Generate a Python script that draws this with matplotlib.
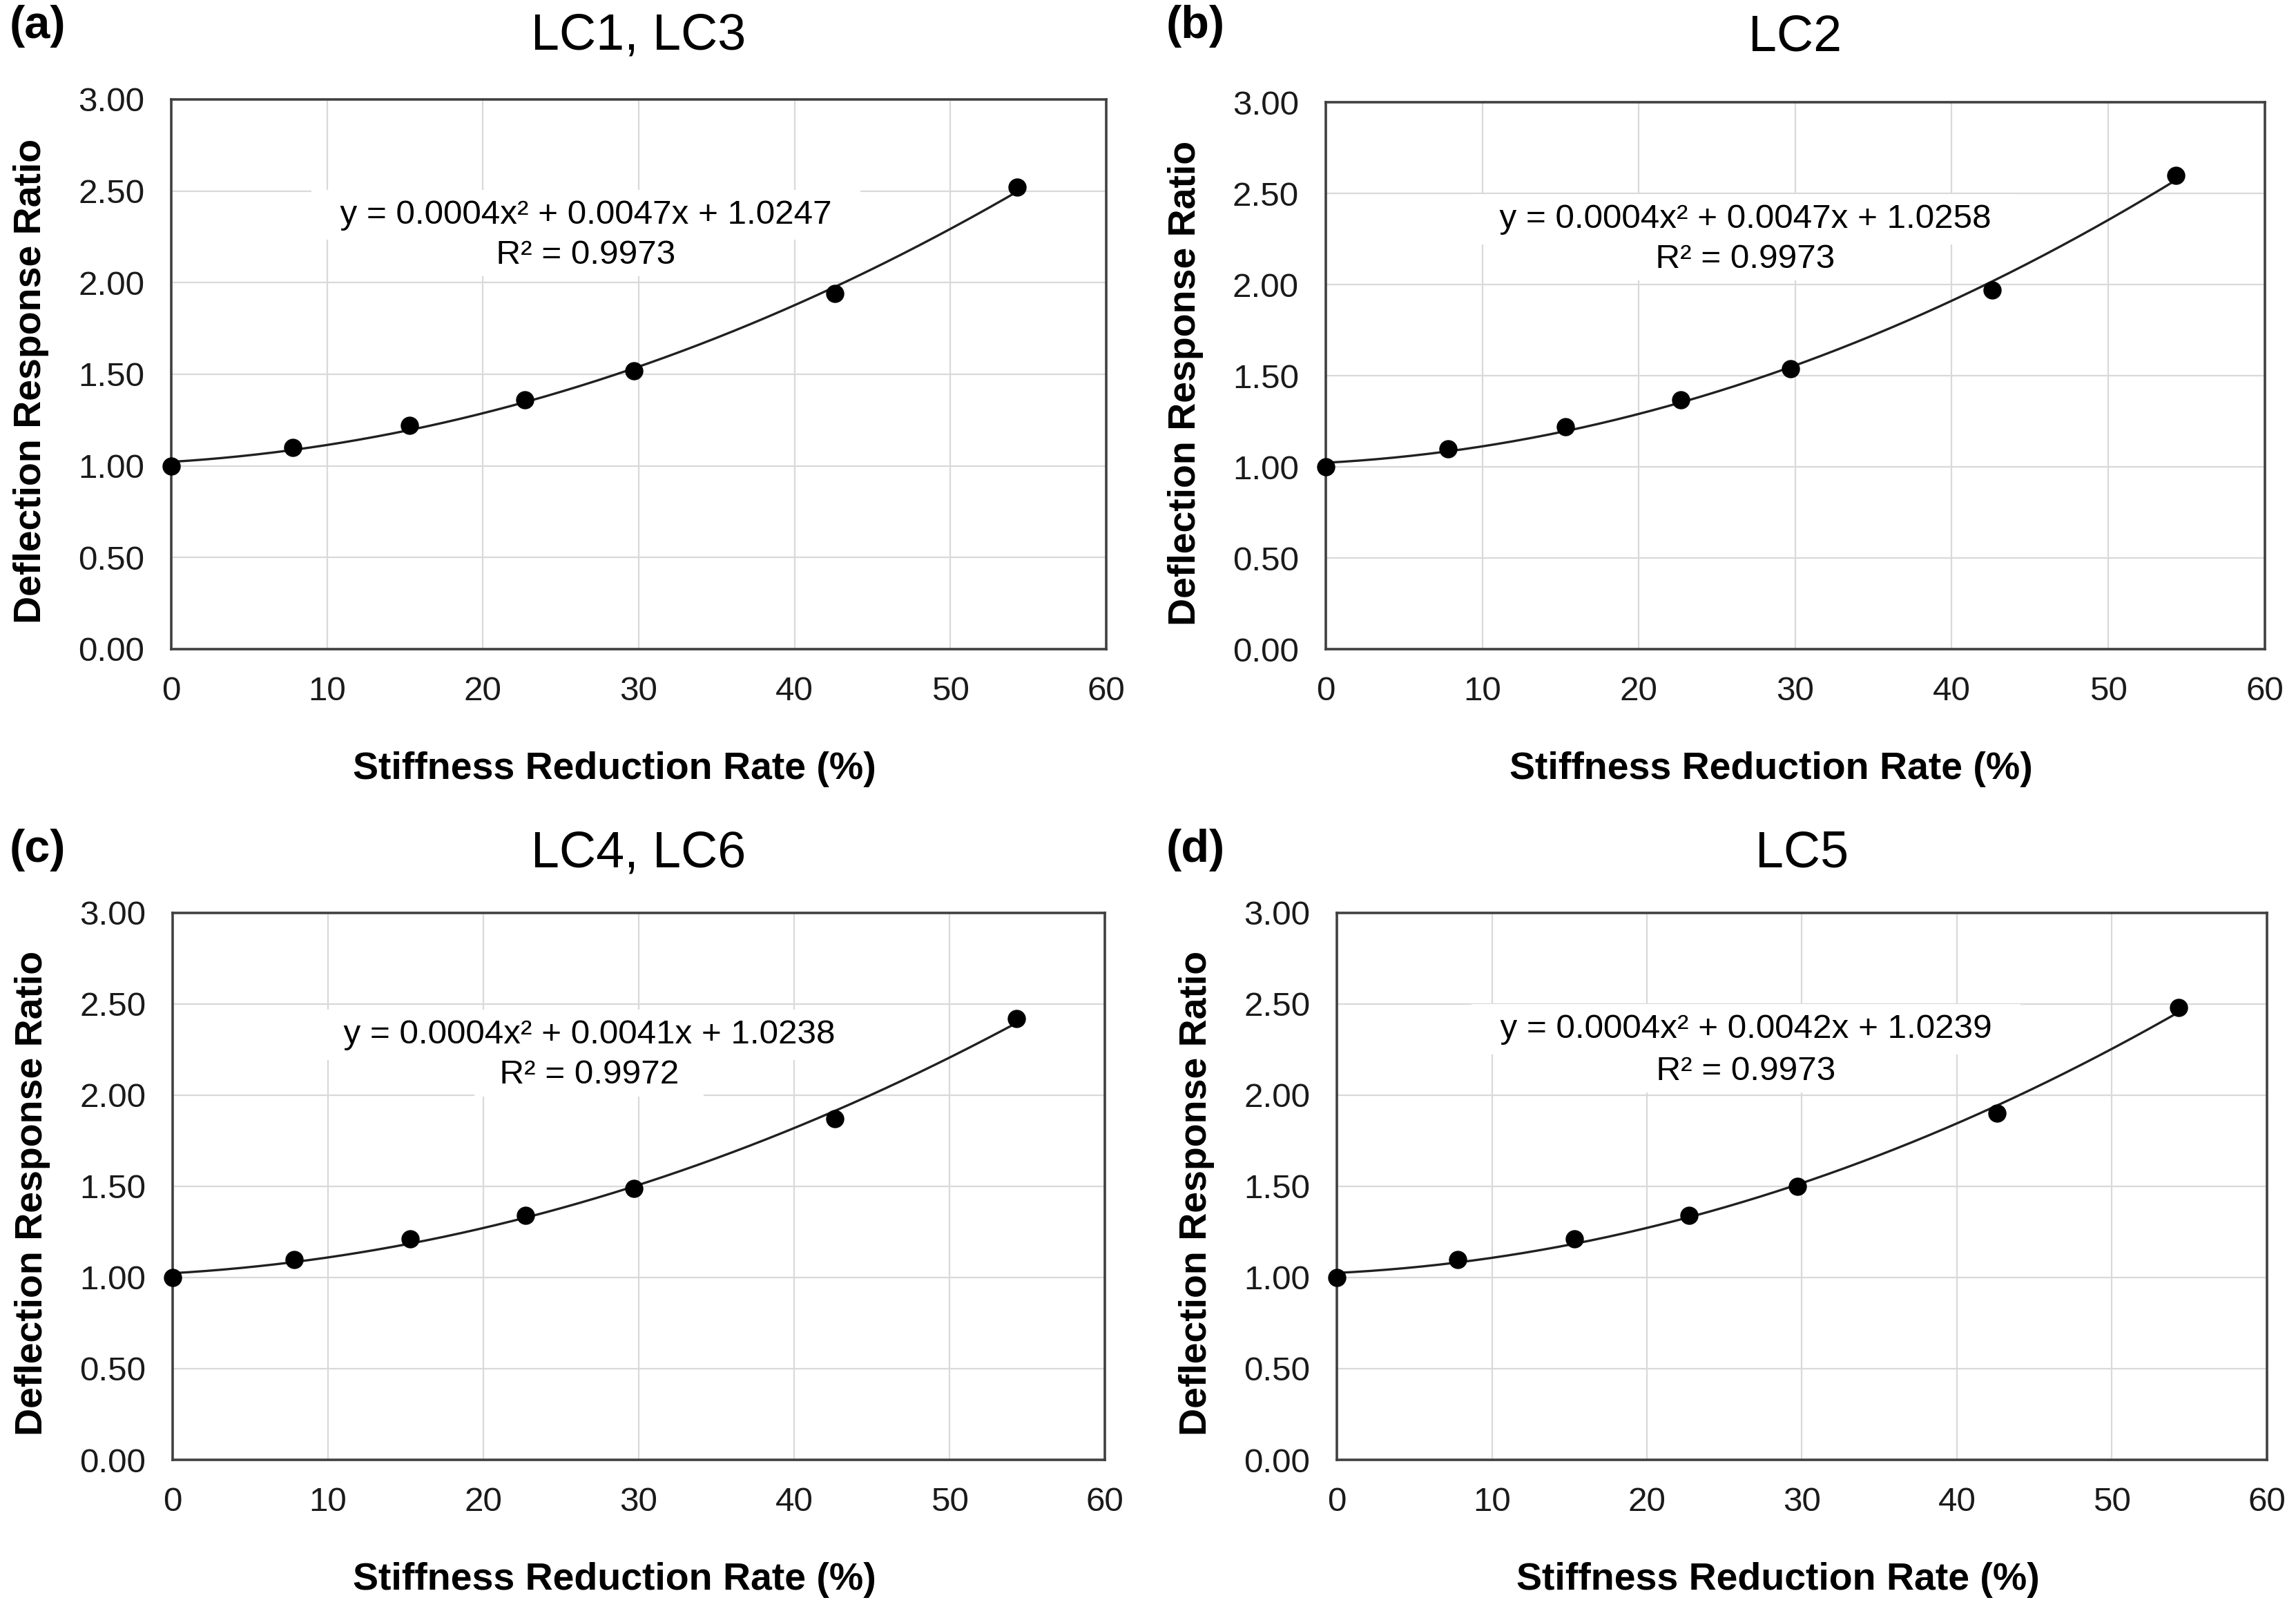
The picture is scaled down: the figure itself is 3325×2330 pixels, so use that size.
import matplotlib
matplotlib.use("Agg")
import matplotlib.pyplot as plt
import numpy as np

plt.rcParams['font.family'] = ['Liberation Sans', 'DejaVu Sans']

# stiffness reduction rate (%) - same steps in every panel
rate = [0, 7.8, 15.3, 22.7, 29.7, 42.6, 54.3]

# deflection response ratio
ratio_a = [1.00, 1.10, 1.22, 1.36, 1.52, 1.94, 2.52]
ratio_b = [1.00, 1.10, 1.22, 1.37, 1.54, 1.97, 2.60]
ratio_c = [1.00, 1.10, 1.21, 1.34, 1.49, 1.87, 2.42]
ratio_d = [1.00, 1.10, 1.21, 1.34, 1.50, 1.90, 2.48]

titles = ["LC1, LC3", "LC2", "LC4, LC6", "LC5"]
tags = ["(a)", "(b)", "(c)", "(d)"]
equations = ["y = 0.0004x\u00b2 + 0.0047x + 1.0247",
             "y = 0.0004x\u00b2 + 0.0047x + 1.0258",
             "y = 0.0004x\u00b2 + 0.0041x + 1.0238",
             "y = 0.0004x\u00b2 + 0.0042x + 1.0239"]
r2_text = ["R\u00b2 = 0.9973", "R\u00b2 = 0.9973", "R\u00b2 = 0.9972", "R\u00b2 = 0.9973"]
all_ratios = [ratio_a, ratio_b, ratio_c, ratio_d]

# axes boxes in figure fractions
boxes = [[0.0746, 0.5966, 0.4072, 0.3416],
         [0.5774, 0.5964, 0.4090, 0.3400],
         [0.0752, 0.0927, 0.4060, 0.3400],
         [0.5823, 0.0927, 0.4050, 0.3400]]
title_pad = [26, 27, 24, 24]
tag_pos = [(0.004, 0.997), (0.508, 0.997), (0.004, 0.485), (0.508, 0.485)]
eq_pos = [(26.6, 2.37, 2.15), (26.8, 2.36, 2.14), (26.8, 2.33, 2.11), (26.4, 2.36, 2.13)]

fig = plt.figure(figsize=(16.625, 11.65), dpi=200)

for i in range(4):
    ax = fig.add_axes(boxes[i])
    y = all_ratios[i]

    # quadratic trendline through the points
    c = np.polyfit(rate, y, 2)
    xs = np.linspace(rate[0], rate[-1], 200)
    ax.plot(xs, np.polyval(c, xs), color="#202020", lw=1.2, zorder=3)
    ax.plot(rate, y, "o", color="black", ms=8.5, zorder=4, clip_on=False)

    ax.set_xlim(0, 60)
    ax.set_ylim(0, 3)
    ax.set_xticks(np.arange(0, 61, 10))
    ax.set_yticks(np.arange(0, 3.01, 0.5))
    ax.set_yticklabels(["%.2f" % v for v in np.arange(0, 3.01, 0.5)])
    ax.tick_params(length=0, labelsize=17.8, pad=14, colors="#1a1a1a")
    ax.grid(color="#d9d9d9", lw=0.8)
    ax.set_axisbelow(True)
    for s in ax.spines.values():
        s.set_color("#404040")
        s.set_linewidth(1.3)

    ax.set_xlabel("Stiffness Reduction Rate (%)", fontsize=20, fontweight="bold",
                  labelpad=23, x=0.474)
    ax.set_ylabel("Deflection Response Ratio", fontsize=20, fontweight="bold",
                  labelpad=15, y=0.487)
    ax.set_title(titles[i], fontsize=26.5, pad=title_pad[i])

    ex, ey1, ey2 = eq_pos[i]
    ax.text(ex, ey1, "  " + equations[i] + "  ", fontsize=17.8, ha="center", va="center",
            zorder=2, bbox=dict(facecolor="white", edgecolor="none", pad=5))
    ax.text(ex, ey2, "  " + r2_text[i] + "  ", fontsize=17.8, ha="center", va="center",
            zorder=2, bbox=dict(facecolor="white", edgecolor="none", pad=3))

    fig.text(tag_pos[i][0], tag_pos[i][1], tags[i], fontsize=24, fontweight="bold",
             ha="left", va="top")

fig.savefig("out.png", dpi=200)
